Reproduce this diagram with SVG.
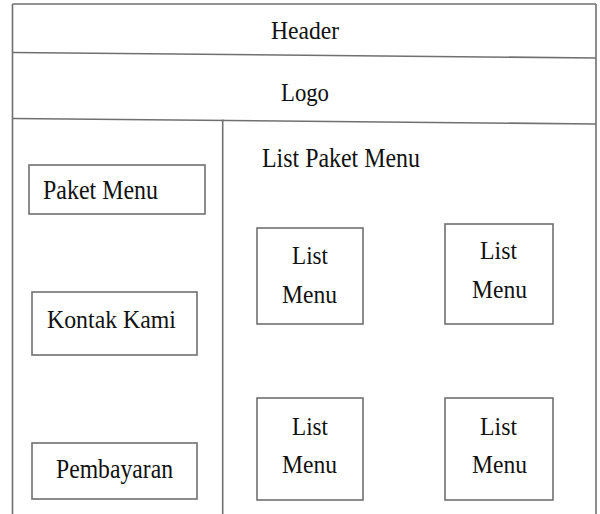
<svg xmlns="http://www.w3.org/2000/svg" width="600" height="514" viewBox="0 0 600 514">
  <style>
    .ln { stroke: #707070; stroke-width: 1.6; fill: none; }
    .box { stroke: #707070; stroke-width: 1.6; fill: #ffffff; }
    text { font-family: "Liberation Serif", "Times New Roman", serif; font-size: 26px; fill: #111111; }
    .sm { font-size: 25px; }
    .lg { font-size: 28px; }
  </style>
  <rect width="600" height="514" fill="#ffffff"/>

  <!-- page frame -->
  <g id="frame">
    <line class="ln" x1="12.5" y1="4" x2="596" y2="4"/>
    <line class="ln" x1="12.5" y1="4" x2="12.5" y2="514"/>
    <line class="ln" x1="596" y1="4" x2="596" y2="514"/>
    <line class="ln" x1="12.5" y1="52.5" x2="596" y2="58"/>
    <line class="ln" x1="12.5" y1="118.5" x2="596" y2="124"/>
    <line class="ln" x1="222.7" y1="119.5" x2="222.7" y2="514"/>
  </g>

  <g id="header">
    <text class="sm" x="271" y="39" textLength="68" lengthAdjust="spacingAndGlyphs">Header</text>
  </g>
  <g id="logo">
    <text class="sm" x="281" y="101" textLength="48" lengthAdjust="spacingAndGlyphs">Logo</text>
  </g>

  <!-- sidebar menu -->
  <g id="paket-menu">
    <rect class="box" x="29" y="165" width="176" height="49"/>
    <text class="lg" x="43" y="199" textLength="115" lengthAdjust="spacingAndGlyphs">Paket Menu</text>
  </g>
  <g id="kontak-kami">
    <rect class="box" x="32" y="292" width="165" height="63"/>
    <text x="47" y="328" font-size="27" textLength="129" lengthAdjust="spacingAndGlyphs">Kontak Kami</text>
  </g>
  <g id="pembayaran">
    <rect class="box" x="32" y="443" width="165" height="56"/>
    <text class="lg" x="56" y="478" textLength="117" lengthAdjust="spacingAndGlyphs">Pembayaran</text>
  </g>

  <!-- content area -->
  <g id="list-paket-menu">
    <text class="lg" x="262" y="167" textLength="158" lengthAdjust="spacingAndGlyphs">List Paket Menu</text>
  </g>
  <g id="list-menu-1">
    <rect class="box" x="257" y="228" width="106" height="96"/>
    <text x="292" y="264" textLength="36" lengthAdjust="spacingAndGlyphs">List</text>
    <text x="282" y="303" textLength="55" lengthAdjust="spacingAndGlyphs">Menu</text>
  </g>
  <g id="list-menu-2">
    <rect class="box" x="445" y="224" width="108" height="100"/>
    <text x="480" y="259" textLength="37" lengthAdjust="spacingAndGlyphs">List</text>
    <text x="472" y="298" textLength="55" lengthAdjust="spacingAndGlyphs">Menu</text>
  </g>
  <g id="list-menu-3">
    <rect class="box" x="257" y="398" width="106" height="102"/>
    <text x="292" y="435" textLength="36" lengthAdjust="spacingAndGlyphs">List</text>
    <text x="282" y="473" textLength="55" lengthAdjust="spacingAndGlyphs">Menu</text>
  </g>
  <g id="list-menu-4">
    <rect class="box" x="445" y="398" width="108" height="102"/>
    <text x="480" y="435" textLength="37" lengthAdjust="spacingAndGlyphs">List</text>
    <text x="472" y="473" textLength="55" lengthAdjust="spacingAndGlyphs">Menu</text>
  </g>

  <!-- no connectors in this layout -->
  <g id="connectors"/>
</svg>
